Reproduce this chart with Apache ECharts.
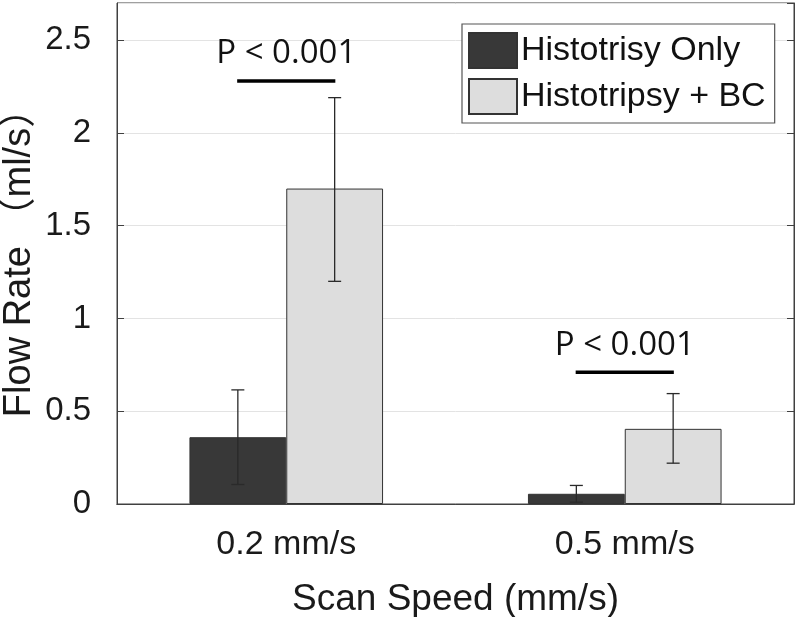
<!DOCTYPE html>
<html>
<head>
<meta charset="utf-8">
<script src="https://cdn.jsdelivr.net/npm/echarts@6/dist/echarts.min.js"></script>
<style>
html,body{margin:0;padding:0;background:#fff;}
#chart{width:800px;height:617px;}
</style>
</head>
<body>
<div id="chart"></div>
<script>
// ---- data ----
const categories = ['0.2 mm/s', '0.5 mm/s'];
const seriesNames = ['Histotrisy Only', 'Histotripsy + BC'];
const onlyMean = [0.36, 0.055];
const onlyLow = [0.105, 0.01];
const onlyHigh = [0.615, 0.10];
const bcMean = [1.70, 0.405];
const bcLow = [1.20, 0.22];
const bcHigh = [2.19, 0.595];
const sigY = [2.28, 0.71];
const sigText = ['P < 0.001', 'P < 0.001'];
const yTicks = [0, 0.5, 1, 1.5, 2, 2.5];

// ---- style ----
const FONT = "'Liberation Sans', Arial, 'Noto Sans CJK SC', sans-serif";
const barFrac = 0.286;  // bar width as fraction of category band
const axisColor = '#404040';

const errData = [];
categories.forEach((c, i) => {
  errData.push([i, onlyLow[i], onlyHigh[i], -1]);
  errData.push([i, bcLow[i], bcHigh[i], 1]);
});
const sigData = categories.map((c, i) => [i, sigY[i], sigText[i]]);

const chart = echarts.init(document.getElementById('chart'), null, {renderer: 'canvas'});
const option = {
  backgroundColor: '#fff',
  animation: false,
  grid: {left: 117, right: 6, top: 3, bottom: 113, show: true, borderColor: axisColor, borderWidth: 1,
    containLabel: false, outerBoundsMode: 'none'},
  legend: {
    data: seriesNames,
    left: 462, top: 24,
    orient: 'vertical',
    itemWidth: 48, itemHeight: 35, itemGap: 9,
    padding: [8, 9, 8, 6],
    borderColor: '#555', borderWidth: 1.2,
    backgroundColor: '#fff',
    icon: 'rect',
    textStyle: {fontFamily: FONT, fontSize: 34, color: '#111', padding: [0, 0, 0, -1]},
    selectedMode: false
  },
  xAxis: [{
    type: 'category', data: categories, position: 'bottom',
    axisLine: {lineStyle: {color: axisColor}},
    axisTick: {inside: true, alignWithLabel: true, length: 7, lineStyle: {color: axisColor}},
    axisLabel: {fontFamily: FONT, fontSize: 34, color: '#1a1a1a', margin: 24},
    name: 'Scan Speed (mm/s)', nameLocation: 'middle', nameGap: 77, nameMoveOverlap: false,
    nameTextStyle: {fontFamily: FONT, fontSize: 37, color: '#1a1a1a'}
  }, {
    type: 'category', data: categories, position: 'top',
    axisLine: {lineStyle: {color: axisColor}},
    axisTick: {inside: true, alignWithLabel: true, length: 7, lineStyle: {color: axisColor}},
    axisLabel: {show: false}
  }],
  yAxis: [{
    type: 'value', min: 0, max: 2.7, interval: 0.5, position: 'left',
    axisLine: {show: true, lineStyle: {color: axisColor}},
    axisTick: {show: true, inside: true, length: 7, lineStyle: {color: axisColor}},
    axisLabel: {fontFamily: FONT, fontSize: 33, color: '#1a1a1a', margin: 26, showMaxLabel: false,
      formatter: v => yTicks.indexOf(Math.round(v * 100) / 100) >= 0 ? String(Math.round(v * 10) / 10) : ''},
    splitLine: {show: true, lineStyle: {color: '#e3e3e3', width: 1}},
    name: 'Flow Rate （ml/s）', nameLocation: 'middle', nameGap: 78, nameMoveOverlap: false,
    nameTextStyle: {fontFamily: FONT, fontSize: 38, color: '#1a1a1a'}
  }, {
    type: 'value', min: 0, max: 2.7, interval: 0.5, position: 'right',
    axisLine: {show: true, lineStyle: {color: axisColor}},
    axisTick: {show: true, inside: true, length: 7, lineStyle: {color: axisColor}},
    axisLabel: {show: false}, splitLine: {show: false}
  }],
  series: [{
    name: seriesNames[0], type: 'bar', data: onlyMean,
    barWidth: (barFrac * 100) + '%', barGap: '0%',
    itemStyle: {color: '#383838', borderColor: '#333', borderWidth: 1}
  }, {
    name: seriesNames[1], type: 'bar', data: bcMean,
    barWidth: (barFrac * 100) + '%', barGap: '0%',
    itemStyle: {color: '#dddddd', borderColor: '#333', borderWidth: 1}
  }, {
    type: 'custom', z: 10, data: errData,
    renderItem: (params, api) => {
      const band = api.size([1, 0])[0];
      const dx = api.value(3) * band * barFrac / 2;
      const lo = api.coord([api.value(0), api.value(1)]);
      const hi = api.coord([api.value(0), api.value(2)]);
      const x = lo[0] + dx;
      const cap = 6.5;
      const st = {stroke: '#2a2a2a', lineWidth: 1.3};
      return {type: 'group', children: [
        {type: 'line', shape: {x1: x, y1: lo[1], x2: x, y2: hi[1]}, style: st},
        {type: 'line', shape: {x1: x - cap, y1: lo[1], x2: x + cap, y2: lo[1]}, style: st},
        {type: 'line', shape: {x1: x - cap, y1: hi[1], x2: x + cap, y2: hi[1]}, style: st}
      ]};
    }
  }, {
    type: 'custom', z: 10, data: sigData,
    renderItem: (params, api) => {
      const band = api.size([1, 0])[0];
      const p = api.coord([api.value(0), api.value(1)]);
      const half = band * 0.145;
      return {type: 'group', children: [
        {type: 'line', shape: {x1: p[0] - half, y1: p[1], x2: p[0] + half, y2: p[1]},
          style: {stroke: '#000', lineWidth: 3.5}},
        {type: 'text', style: {text: sigText[params.dataIndex], x: p[0], y: p[1] - 27,
          textAlign: 'center', textVerticalAlign: 'middle',
          font: "33px 'Open Sans', sans-serif", fill: '#111'}}
      ]};
    }
  }]
};
chart.setOption(option);
</script>
</body>
</html>
